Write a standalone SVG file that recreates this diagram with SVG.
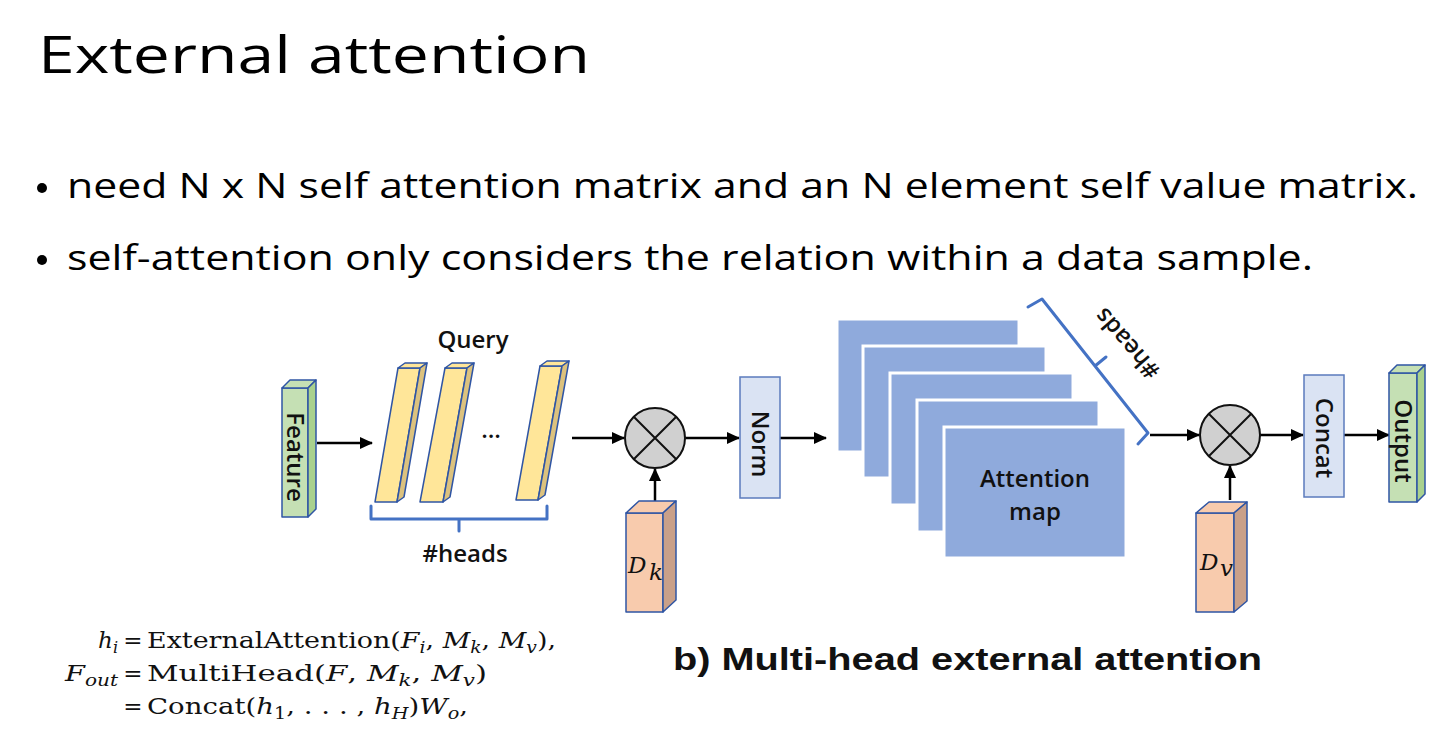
<svg xmlns="http://www.w3.org/2000/svg" width="1455" height="756" viewBox="0 0 1455 756">
<style>
text{font-variant-ligatures:none}
.title{font-family:"Open Sans","Liberation Sans",sans-serif;font-weight:400;font-size:52px;fill:#000}
.bul{font-family:"Open Sans","Liberation Sans",sans-serif;font-weight:500;font-size:35px;fill:#000}
.lbl{font-family:"Open Sans","Liberation Sans",sans-serif;font-weight:600;font-size:24px;fill:#111}
.cap{font-family:"Liberation Sans",Arial,sans-serif;font-weight:bold;font-size:31px;fill:#111}
.eq{font-family:"DejaVu Serif","Liberation Serif",serif;font-size:23px;fill:#111}
.it{font-style:italic}
.conn{stroke:#000;stroke-width:2.5;fill:none;marker-end:url(#ah)}
.edge{stroke:#2f55a4;stroke-width:1.5;stroke-linejoin:round}
.brace{stroke:#4472c4;stroke-width:3;fill:none;stroke-linecap:round;stroke-linejoin:round}
.green{fill:#c5e0b4}.greenS{fill:#a9d18e}
.yel{fill:#ffe699}.yelS{fill:#dcc27e}
.peach{fill:#f8cbad}.peachS{fill:#c9a089}
.pale{fill:#dae3f3;stroke:#5b7bbd;stroke-width:1.5}
.map{fill:#8faadc;stroke:#fff;stroke-width:3}
.mul{fill:#d0d0d0;stroke:#111;stroke-width:2}
</style>
<defs>
<marker id="ah" markerUnits="userSpaceOnUse" markerWidth="13" markerHeight="12" refX="12" refY="6" orient="auto">
<path d="M0,0 L13,6 L0,12 z" fill="#000"/>
</marker>
<linearGradient id="fade" x1="0" y1="0" x2="1" y2="0">
<stop offset="0" stop-color="#777"/>
<stop offset="1" stop-color="#fff"/>
</linearGradient>
</defs>
<rect width="1455" height="756" fill="#fff"/>

<text class="title" x="38" y="73" textLength="552" lengthAdjust="spacingAndGlyphs">External attention</text>
<circle cx="42" cy="188" r="5" fill="#000"/>
<text class="bul" x="67" y="198" textLength="1351" lengthAdjust="spacingAndGlyphs">need N x N self attention matrix and an N element self value matrix.</text>
<circle cx="42" cy="260" r="5" fill="#000"/>
<text class="bul" x="67" y="270" textLength="1246" lengthAdjust="spacingAndGlyphs">self-attention only considers the relation within a data sample.</text>
<line x1="272" y1="290" x2="612" y2="290" stroke="url(#fade)" stroke-width="1.2" stroke-dasharray="3,1.5"/>

<g id="connectors">
<line class="conn" x1="317" y1="443" x2="372" y2="443"/>
<line class="conn" x1="572" y1="438" x2="624" y2="438"/>
<line class="conn" x1="685" y1="438" x2="739" y2="438"/>
<line class="conn" x1="655" y1="501" x2="655" y2="469"/>
<line class="conn" x1="780" y1="438" x2="826" y2="438"/>
<line class="conn" x1="1150" y1="435" x2="1199" y2="435"/>
<line class="conn" x1="1230" y1="500" x2="1230" y2="466"/>
<line class="conn" x1="1260" y1="435" x2="1303" y2="435"/>
<line class="conn" x1="1344" y1="435" x2="1389" y2="435"/>
</g>

<g id="feature">
<polygon class="green edge" points="282,388 308,388 308,517 282,517"/>
<polygon class="green edge" points="282,388 290,380 316,380 308,388"/>
<polygon class="greenS edge" points="308,388 316,380 316,509 308,517"/>
<text class="lbl" transform="translate(295,457) rotate(90)" text-anchor="middle" y="8">Feature</text>
</g>

<g id="query">
<polygon class="yel edge" points="398,368 420,368 397,502 375,502"/>
<polygon class="yel edge" points="398,368 405,363 427,363 420,368"/>
<polygon class="yelS edge" points="420,368 427,363 404,497 397,502"/>
<polygon class="yel edge" points="445,368 467,368 443,502 420,502"/>
<polygon class="yel edge" points="445,368 452,363 474,363 467,368"/>
<polygon class="yelS edge" points="467,368 474,363 450,497 443,502"/>
<polygon class="yel edge" points="540,366 562,366 538,500 516,500"/>
<polygon class="yel edge" points="540,366 547,361 569,361 562,366"/>
<polygon class="yelS edge" points="562,366 569,361 545,495 538,500"/>
<text class="lbl" x="491" y="438" text-anchor="middle" font-size="21">…</text>
<text class="lbl" x="473" y="348" text-anchor="middle">Query</text>
<path class="brace" d="M371,506 V519 H547 V506 M459,519 V531"/>
<text class="lbl" x="465" y="562" text-anchor="middle">#heads</text>
</g>

<g id="mult1">
<circle class="mul" cx="655" cy="438" r="30"/>
<path d="M634,417 L676,459 M676,417 L634,459" stroke="#111" stroke-width="2"/>
</g>

<g id="dk">
<polygon class="peach edge" points="626,513 663,513 663,612 626,612"/>
<polygon class="peach edge" points="626,513 639,501 676,501 663,513"/>
<polygon class="peachS edge" points="663,513 676,501 676,600 663,612"/>
<text class="eq it" x="628" y="573" font-size="27">D</text>
<text class="eq it" x="649" y="580" font-size="19">k</text>
</g>

<g id="norm">
<rect class="pale" x="740" y="377" width="40" height="121"/>
<text class="lbl" transform="translate(760,444) rotate(90)" text-anchor="middle" y="8">Norm</text>
</g>

<g id="attention-map">
<rect class="map" x="837" y="319" width="182" height="133"/>
<rect class="map" x="863" y="346" width="183" height="132"/>
<rect class="map" x="890" y="373" width="183" height="132"/>
<rect class="map" x="917" y="400" width="182" height="132"/>
<rect class="map" x="944" y="427" width="182" height="131"/>
<text class="lbl" x="1035" y="487" text-anchor="middle" font-size="25">Attention</text>
<text class="lbl" x="1035" y="520" text-anchor="middle" font-size="25">map</text>
<path class="brace" d="M1028,307 L1042,299 L1148,433 L1138,444 M1095,366 L1106,357"/>
<text class="lbl" transform="translate(1128,343) rotate(229)" text-anchor="middle" y="7">#heads</text>
</g>

<g id="mult2">
<circle class="mul" cx="1230" cy="435" r="30"/>
<path d="M1209,414 L1251,456 M1251,414 L1209,456" stroke="#111" stroke-width="2"/>
</g>

<g id="dv">
<polygon class="peach edge" points="1196,513 1234,513 1234,612 1196,612"/>
<polygon class="peach edge" points="1196,513 1209,502 1247,502 1234,513"/>
<polygon class="peachS edge" points="1234,513 1247,502 1247,601 1234,612"/>
<text class="eq it" x="1200" y="570" font-size="27">D</text>
<text class="eq it" x="1220" y="576" font-size="19">v</text>
</g>

<g id="concat">
<rect class="pale" x="1304" y="375" width="40" height="122"/>
<text class="lbl" transform="translate(1324,438) rotate(90)" text-anchor="middle" y="8">Concat</text>
</g>

<g id="output">
<polygon class="green edge" points="1389,373 1417,373 1417,502 1389,502"/>
<polygon class="green edge" points="1389,373 1397,365 1425,365 1417,373"/>
<polygon class="greenS edge" points="1417,373 1425,365 1425,494 1417,502"/>
<text class="lbl" transform="translate(1403,441) rotate(90)" text-anchor="middle" y="8">Output</text>
</g>

<text class="cap" x="673" y="670" textLength="589" lengthAdjust="spacingAndGlyphs">b) Multi-head external attention</text>

<g id="equations">
<text class="eq" x="118" y="648" text-anchor="end"><tspan class="it">h</tspan><tspan class="it" font-size="16" dy="5">i</tspan></text>
<text class="eq" x="133" y="648" text-anchor="middle" font-size="21">=</text>
<text class="eq" x="147" y="648" textLength="409" lengthAdjust="spacingAndGlyphs">ExternalAttention(<tspan class="it">F</tspan><tspan class="it" font-size="16" dy="5">i</tspan><tspan dy="-5">, </tspan><tspan class="it">M</tspan><tspan class="it" font-size="16" dy="5">k</tspan><tspan dy="-5">, </tspan><tspan class="it">M</tspan><tspan class="it" font-size="16" dy="5">v</tspan><tspan dy="-5">),</tspan></text>
<text class="eq" x="118" y="681" text-anchor="end" textLength="53" lengthAdjust="spacingAndGlyphs"><tspan class="it">F</tspan><tspan class="it" font-size="16" dy="5">out</tspan></text>
<text class="eq" x="133" y="681" text-anchor="middle" font-size="21">=</text>
<text class="eq" x="147" y="681" textLength="340" lengthAdjust="spacingAndGlyphs">MultiHead(<tspan class="it">F</tspan>, <tspan class="it">M</tspan><tspan class="it" font-size="16" dy="5">k</tspan><tspan dy="-5">, </tspan><tspan class="it">M</tspan><tspan class="it" font-size="16" dy="5">v</tspan><tspan dy="-5">)</tspan></text>
<text class="eq" x="133" y="714" text-anchor="middle" font-size="21">=</text>
<text class="eq" x="147" y="714" textLength="321" lengthAdjust="spacingAndGlyphs">Concat(<tspan class="it">h</tspan><tspan font-size="16" dy="5">1</tspan><tspan dy="-5">, . . . , </tspan><tspan class="it">h</tspan><tspan class="it" font-size="16" dy="5">H</tspan><tspan dy="-5">)</tspan><tspan class="it">W</tspan><tspan class="it" font-size="16" dy="5">o</tspan><tspan dy="-5">,</tspan></text>
</g>
</svg>
